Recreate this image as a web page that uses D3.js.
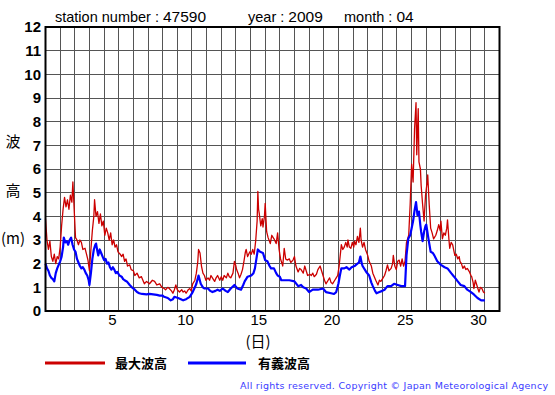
<!DOCTYPE html>
<html><head><meta charset="utf-8">
<script src="https://cdn.jsdelivr.net/npm/d3@7"></script>
<style>body{margin:0;background:#fff}svg{display:block}</style>
</head><body>
<svg id="chart" width="555" height="395"></svg>
<script>
// ---- data (days since 1st 00:00, wave height in m) ----
const maxTime = [0,0.1,0.2,0.3,0.4,0.5,0.6,0.7,0.8,0.9,1.0,1.1,1.2,1.3,1.4,1.5,1.6,1.7,1.8,1.87,1.95,2.05,2.15,2.25,2.35,2.45,2.55,2.7,2.8,2.9,3.0,3.1,3.2,3.3,3.35,3.45,3.55,3.65,3.75,3.85,3.95,4.05,4.15,4.25,4.35,4.45,4.55,4.65,4.75,4.85,4.95,5.1,5.2,5.3,5.4,5.5,5.6,5.75,5.85,6.0,6.1,6.25,6.4,6.55,6.75,6.9,7.1,7.3,7.45,7.6,7.8,7.95,8.1,8.2,8.35,8.45,8.6,8.7,8.8,8.9,9.0,9.15,9.3,9.4,9.5,9.6,9.75,9.85,9.95,10.05,10.2,10.3,10.4,10.45,10.55,10.65,10.75,10.85,10.95,11.1,11.2,11.3,11.45,11.55,11.65,11.75,11.9,12.0,12.1,12.2,12.35,12.45,12.55,12.65,12.8,12.9,13.0,13.05,13.15,13.25,13.35,13.45,13.55,13.65,13.7,13.8,13.95,14.05,14.15,14.25,14.35,14.45,14.5,14.55,14.6,14.7,14.8,14.85,14.95,15.0,15.1,15.2,15.35,15.45,15.6,15.75,15.85,15.95,16.05,16.15,16.2,16.3,16.4,16.5,16.65,16.75,16.9,17.0,17.1,17.25,17.35,17.45,17.6,17.7,17.8,17.9,18.05,18.15,18.25,18.35,18.5,18.6,18.75,18.85,18.95,19.05,19.15,19.3,19.4,19.5,19.6,19.75,19.85,19.95,20.05,20.15,20.2,20.3,20.4,20.5,20.6,20.65,20.75,20.85,20.95,21.05,21.1,21.2,21.3,21.4,21.5,21.55,21.65,21.75,21.85,22.0,22.1,22.25,22.35,22.45,22.55,22.7,22.8,22.9,23.05,23.15,23.25,23.35,23.45,23.6,23.7,23.75,23.85,23.95,24.05,24.15,24.25,24.35,24.45,24.55,24.65,24.8,24.9,25.0,25.1,25.2,25.3,25.35,25.45,25.5,25.6,25.65,25.75,25.85,25.95,26.05,26.1,26.2,26.3,26.4,26.5,26.65,26.75,26.85,26.95,27.0,27.1,27.2,27.3,27.4,27.45,27.55,27.6,27.7,27.8,27.9,27.95,28.05,28.15,28.25,28.3,28.4,28.5,28.6,28.7,28.8,28.95,29.05,29.1,29.2,29.25,29.35,29.45,29.55,29.6,29.7,29.8,29.9,30.0];
const maxHeight = [3.9,3.0,2.6,2.95,2.3,2.1,2.4,2.0,2.3,2.2,2.7,3.6,4.3,4.8,4.4,4.7,4.3,4.9,4.6,5.45,4.4,3.1,3.0,2.8,3.0,2.9,2.6,2.65,2.4,2.15,1.7,2.6,3.4,4.0,4.7,4.0,4.2,3.7,4.1,3.6,3.8,3.2,3.5,3.3,3.0,3.3,2.8,3.0,2.7,2.8,2.5,2.4,2.3,2.4,2.1,2.2,1.9,1.95,1.75,1.7,1.5,1.6,1.4,1.45,1.15,1.25,1.15,1.3,1.25,1.1,1.15,1.0,0.95,0.9,1.0,0.95,0.85,0.75,0.9,1.1,0.9,0.8,0.9,0.8,0.85,0.75,0.9,0.95,0.85,1.15,1.3,1.6,2.1,2.6,2.45,1.9,1.6,1.5,1.3,1.4,1.3,1.5,1.35,1.25,1.4,1.5,1.3,1.45,1.3,1.5,1.4,1.6,1.45,1.4,1.6,2.1,1.9,1.75,1.6,1.4,1.55,1.75,2.1,2.5,2.6,2.3,2.5,2.4,2.6,2.4,2.95,3.8,5.05,4.3,4.1,3.6,3.9,3.55,4.0,4.55,3.35,3.1,2.85,3.2,3.05,2.85,3.3,2.6,2.2,2.0,1.9,2.65,2.2,2.15,2.2,2.05,2.15,2.3,1.9,1.65,1.8,1.75,1.6,1.9,1.7,1.5,1.55,1.5,1.6,1.45,1.55,1.75,1.9,1.7,1.5,1.3,1.15,1.3,1.4,1.2,1.15,1.3,1.4,1.5,1.9,2.5,2.8,2.6,2.7,2.9,2.7,3.0,2.7,2.65,2.9,2.7,2.95,2.8,3.15,2.9,3.5,3.0,2.7,2.9,2.6,2.35,2.1,1.9,1.6,1.45,1.3,1.1,1.3,1.25,1.4,1.5,1.7,1.95,1.7,1.8,2.0,2.35,1.9,1.75,2.1,2.15,1.9,2.2,1.9,2.1,2.9,3.2,4.5,6.2,5.45,7.7,8.8,6.6,8.55,6.3,6.0,5.3,4.5,3.8,4.9,5.4,5.75,4.5,3.5,3.3,3.05,3.2,3.4,3.65,3.4,3.8,3.05,3.3,3.2,3.5,3.85,3.0,2.65,2.9,2.8,2.5,2.35,2.4,2.2,2.3,2.1,2.0,1.8,1.9,1.75,1.8,1.65,1.5,1.45,1.2,0.95,1.3,1.1,0.9,0.8,1.0,0.95,0.8,0.75];
const sigTime = [0,0.1,0.2,0.3,0.4,0.5,0.6,0.7,0.8,0.9,1.0,1.1,1.2,1.25,1.35,1.45,1.55,1.65,1.75,1.85,1.95,2.05,2.15,2.25,2.35,2.45,2.55,2.65,2.75,2.85,2.95,3.0,3.1,3.2,3.3,3.4,3.45,3.55,3.6,3.7,3.8,3.9,4.0,4.1,4.2,4.3,4.4,4.5,4.6,4.7,4.8,4.9,5.05,5.2,5.3,5.4,5.55,5.75,5.9,6.1,6.25,6.4,6.6,6.9,7.1,7.35,7.6,7.8,8.0,8.1,8.35,8.55,8.7,8.8,9.05,9.25,9.4,9.6,9.85,10.05,10.2,10.3,10.45,10.6,10.75,10.85,11.1,11.25,11.4,11.6,11.75,11.9,12.1,12.3,12.45,12.65,12.9,13.1,13.35,13.5,13.6,13.8,14.05,14.2,14.3,14.4,14.5,14.65,14.85,15.0,15.15,15.3,15.4,15.6,15.75,15.85,16.0,16.1,16.3,16.65,17.0,17.25,17.45,17.6,17.8,18.0,18.25,18.6,18.95,19.15,19.5,19.7,19.85,20.0,20.1,20.2,20.4,20.55,20.75,20.9,21.1,21.3,21.4,21.5,21.6,21.65,21.9,22.1,22.25,22.35,22.5,22.6,22.8,23.0,23.15,23.35,23.6,23.8,24.05,24.3,24.45,24.55,24.65,24.77,24.9,25.0,25.1,25.2,25.3,25.4,25.5,25.6,25.65,25.75,25.85,25.95,26.0,26.15,26.3,26.45,26.55,26.75,27.0,27.25,27.45,27.7,27.9,28.15,28.35,28.6,28.8,29.05,29.25,29.5,29.75,30.0];
const sigHeight = [2.0,1.8,1.7,1.5,1.4,1.35,1.25,1.6,1.8,1.95,2.1,2.3,2.7,3.1,2.9,2.95,2.8,3.0,3.1,2.8,2.6,2.5,2.2,2.05,1.9,1.8,1.85,1.75,1.6,1.5,1.3,1.1,1.6,2.2,2.6,2.8,2.85,2.5,2.35,2.6,2.45,2.3,2.15,2.2,2.0,2.05,1.85,1.75,1.85,1.75,1.6,1.65,1.5,1.45,1.35,1.3,1.25,1.1,1.0,0.9,0.8,0.75,0.72,0.7,0.72,0.7,0.68,0.65,0.65,0.6,0.55,0.45,0.5,0.6,0.55,0.5,0.45,0.5,0.6,0.8,1.0,1.15,1.5,1.15,1.0,0.95,0.95,0.85,0.8,0.85,0.9,0.85,0.95,0.85,0.8,0.95,1.1,0.95,0.9,1.1,1.25,1.45,1.5,1.6,1.8,2.2,2.6,2.5,2.45,2.15,2.1,1.9,1.8,1.8,1.6,1.5,1.45,1.3,1.3,1.3,1.25,1.05,1.1,1.0,0.95,0.8,0.9,0.9,0.95,0.8,0.75,0.72,0.8,1.15,1.5,1.8,1.8,1.85,1.75,1.85,1.9,2.0,2.05,2.3,2.0,1.9,1.65,1.5,1.2,1.05,0.85,0.75,0.8,0.85,0.9,1.05,1.05,1.15,1.1,1.05,1.05,1.05,2.35,3.05,3.2,3.5,3.8,4.25,4.6,4.05,4.2,3.6,3.35,2.95,3.35,3.6,3.65,3.05,2.5,2.45,2.35,2.1,1.95,1.85,1.8,1.6,1.45,1.25,1.1,1.05,0.9,0.8,0.7,0.55,0.45,0.45];
const yTicks = [0,1,2,3,4,5,6,7,8,9,10,11,12];
const dayTicks = [5,10,15,20,25,30];
const seriesNames = ["最大波高","有義波高"];
const seriesColors = ["#cc0000","#0000ff"];

const svg = d3.select("#chart");
const F = "'Liberation Sans', Arial, sans-serif";
const J = "'Noto Sans CJK JP', sans-serif";
const x = d3.scaleLinear().domain([0,31]).range([45.5,499.5]);
const y = d3.scaleLinear().domain([0,12]).range([311,27]);

// grid
const g = svg.append("g").attr("stroke","#555").attr("stroke-width",1).attr("shape-rendering","crispEdges");
g.selectAll("line.v").data(d3.range(1,31)).join("line")
  .attr("x1",d=>x(d)).attr("x2",d=>x(d)).attr("y1",y(12)).attr("y2",y(0));
g.selectAll("line.h").data(yTicks.slice(1,-1)).join("line")
  .attr("y1",d=>y(d)).attr("y2",d=>y(d)).attr("x1",x(0)).attr("x2",x(31));

// lines
const pts = (t,v)=>t.map((d,i)=>[d,v[i]]);
const line = d3.line().x(d=>x(d[0])).y(d=>y(d[1]));
svg.append("path").datum(pts(maxTime,maxHeight)).attr("d",line)
  .attr("fill","none").attr("stroke",seriesColors[0]).attr("stroke-width",1.3).attr("stroke-linejoin","round");
svg.append("path").datum(pts(sigTime,sigHeight)).attr("d",line)
  .attr("fill","none").attr("stroke",seriesColors[1]).attr("stroke-width",2.2).attr("stroke-linejoin","round");

// frame
svg.append("rect").attr("x",x(0)).attr("y",y(12)).attr("width",x(31)-x(0)).attr("height",y(0)-y(12))
  .attr("fill","none").attr("stroke","#000").attr("stroke-width",2);

// y tick labels
svg.append("g").selectAll("text").data(yTicks).join("text")
  .attr("x",41).attr("y",d=>y(d)).attr("dy","0.36em").attr("text-anchor","end")
  .attr("font-family",F).attr("font-weight","bold").attr("font-size",15).text(d=>d);

// x tick labels (centered in each day column)
svg.append("g").selectAll("text").data(dayTicks).join("text")
  .attr("x",d=>x(d-0.5)+1).attr("y",325).attr("text-anchor","middle")
  .attr("font-family",F).attr("font-size",15).text(d=>d);

// axis titles
svg.append("text").attr("x",258).attr("y",347).attr("text-anchor","middle")
  .attr("font-family",J).attr("font-size",15).text("(日)");
[["波",147],["高",196],["(m)",244]].forEach(([t,yy])=>{
  svg.append("text").attr("x",13).attr("y",yy).attr("text-anchor","middle")
    .attr("font-family",J).attr("font-size",15).text(t);
});

// title
[["station number : ",55,"47590"],["year : ",248,"2009"],["month : ",344,"04"]].forEach(([a,xx,b])=>{
  const t = svg.append("text").attr("x",xx).attr("y",22).attr("font-family",F).attr("font-size",14.5);
  t.append("tspan").text(a);
  t.append("tspan").attr("font-size",15.5).text(b);
});

// legend
const leg = [[45,105,115],[188,246,258]];
leg.forEach(([x1,x2,tx],i)=>{
  svg.append("line").attr("x1",x1).attr("x2",x2).attr("y1",363).attr("y2",363)
    .attr("stroke",seriesColors[i]).attr("stroke-width",3);
  svg.append("text").attr("x",tx).attr("y",368).attr("font-family",J)
    .attr("font-weight","bold").attr("font-size",13).text(seriesNames[i]);
});

// copyright
svg.append("text").attr("x",240).attr("y",389).attr("font-family","'DejaVu Sans', sans-serif")
  .attr("font-size",9.5).attr("fill","#3b3bff").attr("textLength",308).attr("lengthAdjust","spacing")
  .text("All rights reserved. Copyright © Japan Meteorological Agency");
</script>
</body></html>
